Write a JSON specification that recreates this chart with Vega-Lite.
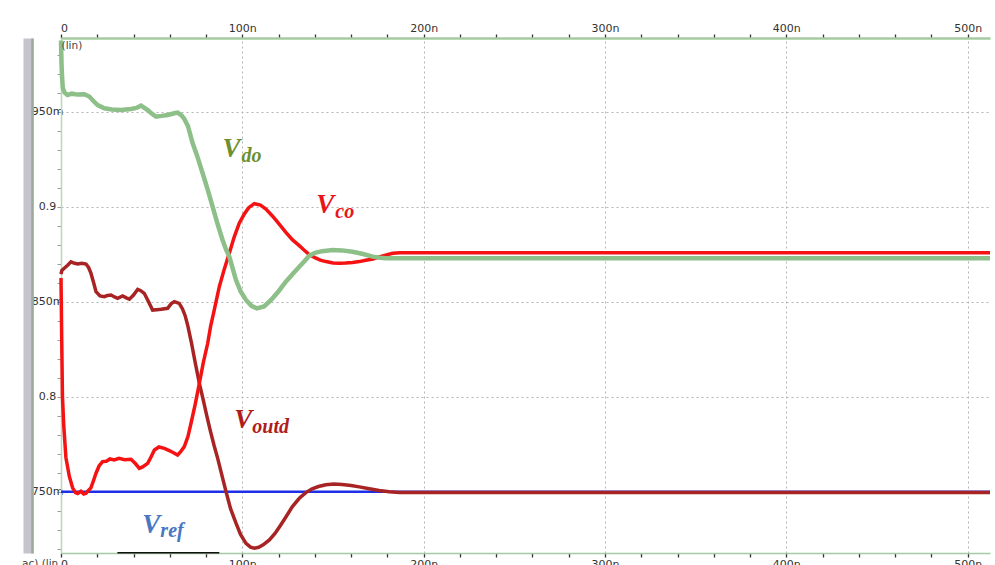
{
  "$schema": "https://vega.github.io/schema/vega-lite/v6.json",
  "autosize": {"type": "none"},
  "width": 929,
  "height": 515,
  "padding": {"left": 61, "top": 38, "right": 5, "bottom": 12},
  "background": "white",
  "config": {"view": {"stroke": null}},
  "datasets": {
    "vref": [{"t": 0, "v": 0.75}, {"t": 512.3, "v": 0.75}],
    "voutd": [
      {"t": 0, "v": 0.8645}, {"t": 0.5, "v": 0.8665}, {"t": 1.8, "v": 0.8676}, {"t": 3.5, "v": 0.869}, {"t": 5.5, "v": 0.871},
      {"t": 7.5, "v": 0.8702}, {"t": 9.2, "v": 0.8698}, {"t": 11.5, "v": 0.8702}, {"t": 13.8, "v": 0.8698}, {"t": 15.2, "v": 0.868},
      {"t": 16.5, "v": 0.865}, {"t": 18, "v": 0.86}, {"t": 19.3, "v": 0.8553}, {"t": 21.5, "v": 0.853}, {"t": 23.9, "v": 0.8526},
      {"t": 25.7, "v": 0.8533}, {"t": 27.6, "v": 0.8535}, {"t": 29.5, "v": 0.8525}, {"t": 31.2, "v": 0.8518}, {"t": 34, "v": 0.853},
      {"t": 36, "v": 0.852}, {"t": 37.7, "v": 0.8513}, {"t": 40, "v": 0.8535}, {"t": 42.3, "v": 0.8565}, {"t": 44, "v": 0.8558},
      {"t": 45.9, "v": 0.8544}, {"t": 48, "v": 0.8505}, {"t": 50.5, "v": 0.8456}, {"t": 52.8, "v": 0.8458}, {"t": 55.2, "v": 0.846},
      {"t": 58.8, "v": 0.8465}, {"t": 60.8, "v": 0.849}, {"t": 62.5, "v": 0.85}, {"t": 65.2, "v": 0.8491}, {"t": 67, "v": 0.8462},
      {"t": 68.5, "v": 0.8425}, {"t": 70, "v": 0.837}, {"t": 72, "v": 0.828}, {"t": 74, "v": 0.818}, {"t": 76.3, "v": 0.807},
      {"t": 78.5, "v": 0.798}, {"t": 80.5, "v": 0.7895}, {"t": 82.5, "v": 0.7815}, {"t": 84.5, "v": 0.774}, {"t": 86.4, "v": 0.7675},
      {"t": 88.5, "v": 0.7595}, {"t": 91, "v": 0.75}, {"t": 93.5, "v": 0.741}, {"t": 96.5, "v": 0.7334}, {"t": 99, "v": 0.7275},
      {"t": 102, "v": 0.7228}, {"t": 104.5, "v": 0.7208}, {"t": 106.6, "v": 0.7202}, {"t": 109, "v": 0.7207}, {"t": 111.5, "v": 0.722},
      {"t": 114.9, "v": 0.7246}, {"t": 118, "v": 0.728}, {"t": 121, "v": 0.7322}, {"t": 124.1, "v": 0.7368}, {"t": 127.5, "v": 0.742},
      {"t": 131.4, "v": 0.7465}, {"t": 135, "v": 0.7495}, {"t": 138.5, "v": 0.7515}, {"t": 142, "v": 0.7527}, {"t": 146, "v": 0.7536},
      {"t": 150.6, "v": 0.754}, {"t": 155, "v": 0.7538}, {"t": 160, "v": 0.7532}, {"t": 164.5, "v": 0.7525}, {"t": 170, "v": 0.7515},
      {"t": 175.5, "v": 0.7506}, {"t": 181, "v": 0.7499}, {"t": 186.6, "v": 0.7496}, {"t": 250, "v": 0.7495}, {"t": 350, "v": 0.7495},
      {"t": 450, "v": 0.7495}, {"t": 512.3, "v": 0.7495}
    ],
    "vco": [
      {"t": 0, "v": 0.8625}, {"t": 0.4, "v": 0.83}, {"t": 0.8, "v": 0.8}, {"t": 1.5, "v": 0.785}, {"t": 2.7, "v": 0.768},
      {"t": 4.6, "v": 0.758}, {"t": 6.4, "v": 0.752}, {"t": 8, "v": 0.7495}, {"t": 9.2, "v": 0.749}, {"t": 11, "v": 0.7502},
      {"t": 12.5, "v": 0.7488}, {"t": 13.8, "v": 0.7492}, {"t": 15, "v": 0.7505}, {"t": 16.5, "v": 0.752}, {"t": 18, "v": 0.756},
      {"t": 19.3, "v": 0.7597}, {"t": 21, "v": 0.7635}, {"t": 22.9, "v": 0.7658}, {"t": 25, "v": 0.766}, {"t": 27, "v": 0.7672},
      {"t": 29.4, "v": 0.7667}, {"t": 32, "v": 0.7675}, {"t": 35, "v": 0.7668}, {"t": 38.6, "v": 0.767}, {"t": 41, "v": 0.7648},
      {"t": 43.2, "v": 0.7623}, {"t": 45, "v": 0.763}, {"t": 47.8, "v": 0.7649}, {"t": 49.5, "v": 0.768}, {"t": 51.5, "v": 0.7719},
      {"t": 54, "v": 0.7735}, {"t": 57, "v": 0.7728}, {"t": 60, "v": 0.7715}, {"t": 62, "v": 0.7705}, {"t": 64.3, "v": 0.7693},
      {"t": 66, "v": 0.771}, {"t": 68, "v": 0.7737}, {"t": 70, "v": 0.779}, {"t": 71.7, "v": 0.786}, {"t": 74, "v": 0.796},
      {"t": 76.3, "v": 0.807}, {"t": 78.5, "v": 0.818}, {"t": 80.9, "v": 0.8281}, {"t": 82.5, "v": 0.837}, {"t": 84.5, "v": 0.8455},
      {"t": 87.3, "v": 0.8579}, {"t": 90, "v": 0.867}, {"t": 92.8, "v": 0.8755}, {"t": 95.5, "v": 0.884}, {"t": 98.3, "v": 0.8913},
      {"t": 101, "v": 0.896}, {"t": 103.5, "v": 0.8995}, {"t": 106.6, "v": 0.9016}, {"t": 110, "v": 0.9008}, {"t": 113, "v": 0.8988},
      {"t": 116.7, "v": 0.895}, {"t": 120, "v": 0.8912}, {"t": 124, "v": 0.8865}, {"t": 127.7, "v": 0.8825}, {"t": 131.4, "v": 0.8795},
      {"t": 134, "v": 0.8772}, {"t": 136.9, "v": 0.8748}, {"t": 140, "v": 0.8732}, {"t": 143, "v": 0.8719}, {"t": 146.1, "v": 0.8711},
      {"t": 150, "v": 0.8704}, {"t": 153.5, "v": 0.8702}, {"t": 157, "v": 0.8703}, {"t": 160.8, "v": 0.8706}, {"t": 164.5, "v": 0.8711},
      {"t": 168, "v": 0.8718}, {"t": 172, "v": 0.8725}, {"t": 175.5, "v": 0.8735}, {"t": 179, "v": 0.8745}, {"t": 182.9, "v": 0.8755},
      {"t": 187, "v": 0.8758}, {"t": 250, "v": 0.8758}, {"t": 350, "v": 0.8758}, {"t": 450, "v": 0.8758}, {"t": 512.3, "v": 0.8758}
    ],
    "vdo": [
      {"t": 0, "v": 0.9875}, {"t": 0.3, "v": 0.975}, {"t": 0.6, "v": 0.968}, {"t": 1.0, "v": 0.9625}, {"t": 2, "v": 0.96},
      {"t": 3.6, "v": 0.9588}, {"t": 6, "v": 0.9595}, {"t": 9, "v": 0.959}, {"t": 12.9, "v": 0.9592}, {"t": 15.6, "v": 0.958},
      {"t": 18, "v": 0.9555}, {"t": 20.2, "v": 0.9535}, {"t": 23.9, "v": 0.9518}, {"t": 28, "v": 0.9512}, {"t": 33, "v": 0.9509},
      {"t": 38.6, "v": 0.9514}, {"t": 41.5, "v": 0.952}, {"t": 44.1, "v": 0.9532}, {"t": 47.8, "v": 0.9509}, {"t": 50, "v": 0.949},
      {"t": 52.4, "v": 0.9474}, {"t": 55.5, "v": 0.9478}, {"t": 58.8, "v": 0.9483}, {"t": 62.5, "v": 0.9492}, {"t": 64.3, "v": 0.9495},
      {"t": 66.5, "v": 0.948}, {"t": 68, "v": 0.9462}, {"t": 70, "v": 0.9425}, {"t": 72.6, "v": 0.9334}, {"t": 75, "v": 0.927},
      {"t": 78.1, "v": 0.9176}, {"t": 80.9, "v": 0.909}, {"t": 83.6, "v": 0.9}, {"t": 86.3, "v": 0.891}, {"t": 89.1, "v": 0.8825},
      {"t": 91, "v": 0.8775}, {"t": 92.8, "v": 0.8737}, {"t": 96.5, "v": 0.8614}, {"t": 99, "v": 0.8555}, {"t": 102, "v": 0.8509},
      {"t": 105, "v": 0.8478}, {"t": 108, "v": 0.8465}, {"t": 112, "v": 0.8475}, {"t": 116, "v": 0.851}, {"t": 120, "v": 0.8555},
      {"t": 124, "v": 0.8605}, {"t": 128, "v": 0.8648}, {"t": 131.4, "v": 0.8684}, {"t": 134, "v": 0.871}, {"t": 136.9, "v": 0.8742},
      {"t": 140, "v": 0.8757}, {"t": 144, "v": 0.8766}, {"t": 149.8, "v": 0.8772}, {"t": 155, "v": 0.877}, {"t": 160.8, "v": 0.8763},
      {"t": 166, "v": 0.8752}, {"t": 171.9, "v": 0.8737}, {"t": 176, "v": 0.8731}, {"t": 179.2, "v": 0.8728}, {"t": 250, "v": 0.8728},
      {"t": 350, "v": 0.8728}, {"t": 450, "v": 0.8728}, {"t": 512.3, "v": 0.8728}
    ],
    "labels": [
      {"txt": "V", "kind": "main", "series": "do", "t": 89, "v": 0.9262},
      {"txt": "do", "kind": "sub", "series": "do", "t": 99.5, "v": 0.9235},
      {"txt": "V", "kind": "main", "series": "co", "t": 140.8, "v": 0.8967},
      {"txt": "co", "kind": "sub", "series": "co", "t": 151.3, "v": 0.894},
      {"txt": "V", "kind": "main", "series": "outd", "t": 95.6, "v": 0.7835},
      {"txt": "outd", "kind": "sub", "series": "outd", "t": 105.5, "v": 0.7809},
      {"txt": "V", "kind": "main", "series": "ref", "t": 44.8, "v": 0.7283},
      {"txt": "ref", "kind": "sub", "series": "ref", "t": 54.8, "v": 0.7262}
    ],
    "notesTop": [{"txt": "(lin)", "t": 0.3, "v": 0.9872}],
    "notesBottom": [{"txt": "ac) (lin", "t": -1.5, "v": 0.7146}],
    "seg": [{"t": 31.1, "t2": 87.3, "v": 0.7178}]
  },
  "resolve": {"axis": {"x": "independent", "y": "independent"}},
  "layer": [
    {
      "data": {"name": "vref"},
      "mark": {"type": "line", "color": "#1f2fe8", "strokeWidth": 2.5},
      "encoding": {
        "x": {
          "field": "t", "type": "quantitative",
          "scale": {"domain": [0, 512.3], "nice": false, "zero": false},
          "axis": {
            "orient": "top", "title": null,
            "values": [0, 20, 40, 60, 80, 100, 120, 140, 160, 180, 200, 220, 240, 260, 280, 300, 320, 340, 360, 380, 400, 420, 440, 460, 480, 500],
            "labelExpr": "datum.value % 100 === 0 ? (datum.value === 0 ? '0' : datum.value + 'n') : ''",
            "labelFont": "DejaVu Sans", "labelFontSize": 11, "labelColor": "#333333", "labelPadding": 1,
            "labelOffset": {"condition": {"test": "datum.value === 0", "value": 3}, "value": 0},
            "labelOverlap": false, "labelBound": false, "labelFlush": false,
            "domainColor": "#a6cba2", "domainWidth": 2.5,
            "tickColor": "#333333", "tickSize": 4, "tickWidth": 1.3,
            "grid": true, "gridColor": "#b4b4b4", "gridDash": [2, 3], "gridWidth": 1,
            "gridOpacity": {"condition": {"test": "datum.value % 100 === 0 && datum.value > 0", "value": 1}, "value": 0}
          }
        },
        "y": {
          "field": "v", "type": "quantitative",
          "scale": {"domain": [0.7177, 0.9888], "nice": false, "zero": false},
          "axis": {
            "orient": "left", "title": null,
            "values": [0.72, 0.73, 0.74, 0.75, 0.76, 0.77, 0.78, 0.79, 0.8, 0.81, 0.82, 0.83, 0.84, 0.85, 0.86, 0.87, 0.88, 0.89, 0.9, 0.91, 0.92, 0.93, 0.94, 0.95, 0.96, 0.97, 0.98],
            "labelExpr": "abs(datum.value*20 - round(datum.value*20)) < 0.001 ? (abs(datum.value*10 - round(datum.value*10)) < 0.001 ? format(datum.value, '.1f') : format(round(datum.value*1000), 'd') + 'm') : ''",
            "labelFont": "DejaVu Sans", "labelFontSize": 11, "labelColor": "#333333",
            "labelAlign": "center", "labelBaseline": "middle", "labelPadding": 10,
            "labelOverlap": false, "labelBound": false, "labelFlush": false,
            "domainColor": "#b9d8b5", "domainWidth": 1.5,
            "tickColor": "#9a9a9a", "tickSize": 4, "tickWidth": 1,
            "grid": true, "gridColor": "#b4b4b4", "gridDash": [2, 3], "gridWidth": 1,
            "gridOpacity": {"condition": {"test": "abs(datum.value*20 - round(datum.value*20)) < 0.001", "value": 1}, "value": 0}
          }
        }
      }
    },
    {
      "data": {"name": "voutd"},
      "mark": {"type": "line", "color": "#a82424", "strokeWidth": 3.5},
      "encoding": {
        "x": {
          "field": "t", "type": "quantitative",
          "scale": {"domain": [0, 512.3], "nice": false, "zero": false},
          "axis": {
            "orient": "bottom", "title": null,
            "values": [0, 20, 40, 60, 80, 100, 120, 140, 160, 180, 200, 220, 240, 260, 280, 300, 320, 340, 360, 380, 400, 420, 440, 460, 480, 500],
            "labelExpr": "datum.value % 100 === 0 ? (datum.value === 0 ? '0' : datum.value + 'n') : ''",
            "labelFont": "DejaVu Sans", "labelFontSize": 11, "labelColor": "#333333", "labelPadding": 1,
            "labelOffset": {"condition": {"test": "datum.value === 0", "value": 3}, "value": 0},
            "labelOverlap": false, "labelBound": false, "labelFlush": false,
            "domainColor": "#a6cba2", "domainWidth": 1.5,
            "tickColor": "#333333", "tickSize": 4, "tickWidth": 1.3,
            "grid": false
          }
        },
        "y": {
          "field": "v", "type": "quantitative",
          "scale": {"domain": [0.7177, 0.9888], "nice": false, "zero": false},
          "axis": {
            "orient": "left", "title": null, "offset": 33,
            "labels": false, "ticks": false, "grid": false,
            "domainColor": "#c5c4cd", "domainWidth": 10
          }
        }
      }
    },
    {
      "data": {"name": "vco"},
      "mark": {"type": "line", "color": "#f41212", "strokeWidth": 3.5},
      "encoding": {
        "x": {"field": "t", "type": "quantitative", "scale": {"domain": [0, 512.3], "nice": false, "zero": false}, "axis": null},
        "y": {
          "field": "v", "type": "quantitative",
          "scale": {"domain": [0.7177, 0.9888], "nice": false, "zero": false},
          "axis": {
            "orient": "left", "title": null, "offset": 29,
            "labels": false, "ticks": false, "grid": false,
            "domainColor": "#9ea99c", "domainWidth": 2.5
          }
        }
      }
    },
    {
      "data": {"name": "vdo"},
      "mark": {"type": "line", "color": "#8dbf89", "strokeWidth": 4.5},
      "encoding": {
        "x": {"field": "t", "type": "quantitative", "scale": {"domain": [0, 512.3], "nice": false, "zero": false}, "axis": null},
        "y": {"field": "v", "type": "quantitative", "scale": {"domain": [0.7177, 0.9888], "nice": false, "zero": false}, "axis": null}
      }
    },
    {
      "data": {"name": "seg"},
      "mark": {"type": "rule", "color": "#111111", "strokeWidth": 1.5},
      "encoding": {
        "x": {"field": "t", "type": "quantitative", "scale": {"domain": [0, 512.3], "nice": false, "zero": false}, "axis": null},
        "x2": {"field": "t2"},
        "y": {"field": "v", "type": "quantitative", "scale": {"domain": [0.7177, 0.9888], "nice": false, "zero": false}, "axis": null}
      }
    },
    {
      "data": {"name": "labels"},
      "transform": [{"filter": "datum.kind === 'main'"}],
      "mark": {"type": "text", "align": "left", "baseline": "alphabetic", "font": "Liberation Serif", "fontSize": 27, "fontWeight": "bold", "fontStyle": "italic"},
      "encoding": {
        "x": {"field": "t", "type": "quantitative", "scale": {"domain": [0, 512.3], "nice": false, "zero": false}, "axis": null},
        "y": {"field": "v", "type": "quantitative", "scale": {"domain": [0.7177, 0.9888], "nice": false, "zero": false}, "axis": null},
        "text": {"field": "txt"},
        "color": {"field": "series", "type": "nominal", "scale": {"domain": ["do", "co", "outd", "ref"], "range": ["#6f8f2f", "#e8141a", "#b01c1c", "#4a78c0"]}, "legend": null}
      }
    },
    {
      "data": {"name": "labels"},
      "transform": [{"filter": "datum.kind === 'sub'"}],
      "mark": {"type": "text", "align": "left", "baseline": "alphabetic", "font": "Liberation Serif", "fontSize": 20, "fontWeight": "bold", "fontStyle": "italic"},
      "encoding": {
        "x": {"field": "t", "type": "quantitative", "scale": {"domain": [0, 512.3], "nice": false, "zero": false}, "axis": null},
        "y": {"field": "v", "type": "quantitative", "scale": {"domain": [0.7177, 0.9888], "nice": false, "zero": false}, "axis": null},
        "text": {"field": "txt"},
        "color": {"field": "series", "type": "nominal", "scale": {"domain": ["do", "co", "outd", "ref"], "range": ["#6f8f2f", "#e8141a", "#b01c1c", "#4a78c0"]}, "legend": null}
      }
    },
    {
      "data": {"name": "notesTop"},
      "mark": {"type": "text", "align": "left", "baseline": "top", "font": "DejaVu Sans", "fontSize": 10.5, "color": "#444444"},
      "encoding": {
        "x": {"field": "t", "type": "quantitative", "scale": {"domain": [0, 512.3], "nice": false, "zero": false}, "axis": null},
        "y": {"field": "v", "type": "quantitative", "scale": {"domain": [0.7177, 0.9888], "nice": false, "zero": false}, "axis": null},
        "text": {"field": "txt"}
      }
    },
    {
      "data": {"name": "notesBottom"},
      "mark": {"type": "text", "align": "right", "baseline": "top", "font": "DejaVu Sans", "fontSize": 10.5, "color": "#444444"},
      "encoding": {
        "x": {"field": "t", "type": "quantitative", "scale": {"domain": [0, 512.3], "nice": false, "zero": false}, "axis": null},
        "y": {"field": "v", "type": "quantitative", "scale": {"domain": [0.7177, 0.9888], "nice": false, "zero": false}, "axis": null},
        "text": {"field": "txt"}
      }
    }
  ]
}
